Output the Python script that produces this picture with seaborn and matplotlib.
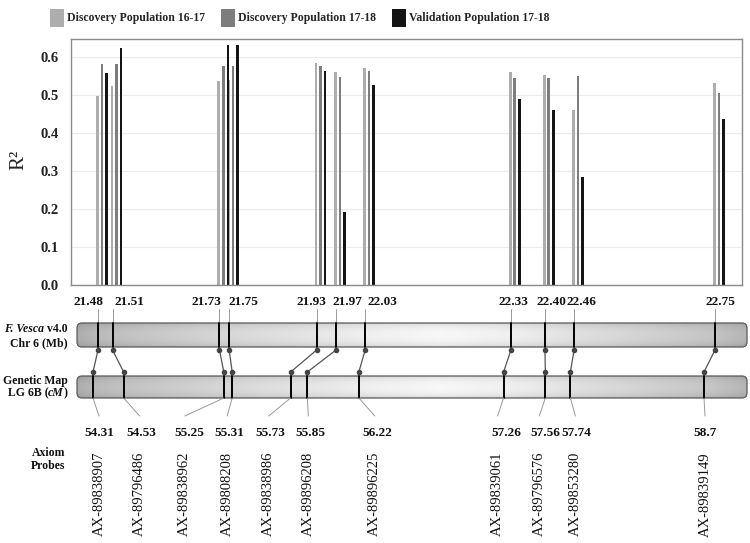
import numpy as np
import pandas as pd
import matplotlib
matplotlib.use('Agg')
import matplotlib.pyplot as plt
from matplotlib.patches import Patch, FancyBboxPatch
import seaborn as sns

# markers: physical position (Mb), genetic position (cM), probe id
mb_pos = [21.48, 21.51, 21.73, 21.75, 21.93, 21.97, 22.03, 22.33, 22.40, 22.46, 22.75]
cm_pos = [54.31, 54.53, 55.25, 55.31, 55.73, 55.85, 56.22, 57.26, 57.56, 57.74, 58.7]
probes = ['AX-89838907', 'AX-89796486', 'AX-89838962', 'AX-89808208', 'AX-89838986',
          'AX-89896208', 'AX-89896225', 'AX-89839061', 'AX-89796576', 'AX-89853280',
          'AX-89839149']

pops = ['Discovery Population 16-17', 'Discovery Population 17-18',
        'Validation Population 17-18']
r2_disc_1617 = [0.498, 0.523, 0.537, 0.540, 0.585, 0.561, 0.571, 0.562, 0.554, 0.460, 0.533]
r2_disc_1718 = [0.582, 0.582, 0.576, 0.578, 0.577, 0.548, 0.564, 0.544, 0.545, 0.551, 0.506]
r2_valid_1718 = [0.559, 0.625, 0.631, 0.631, 0.565, 0.193, 0.528, 0.490, 0.460, 0.285, 0.437]

colors = ['#adadad', '#7d7d7d', '#141414']

# label nudges in pixels (layout only)
mb_lab_off = [-10, 17, -13, 14, -5, 11, 17, 2, 6, 7, 5]
cm_lab_off = [6, 18, -35, -3, -20, 3, 18, 3, 0, 6, 1]
probe_off = [6, 16, -39, -5, -22, 1, 16, -6, -6, 5, 1]

df = pd.DataFrame({
    'mb': mb_pos * 3,
    'r2': r2_disc_1617 + r2_disc_1718 + r2_valid_1718,
    'pop': [p for p in pops for _ in mb_pos],
})

sns.set_theme(style='white')
plt.rcParams['font.family'] = ['Liberation Serif', 'DejaVu Serif']

W, H = 750, 543
fig = plt.figure(figsize=(W / 100, H / 100), dpi=100)
ax = fig.add_axes([71 / W, 1 - 285 / H, (742 - 71) / W, (285 - 39) / H])

sns.barplot(data=df, x='mb', y='r2', hue='pop', hue_order=pops, palette=colors,
            native_scale=True, width=1.4, gap=0.4, errorbar=None, saturation=1,
            legend=False, linewidth=0, ax=ax)

# groups sit slightly right of the marker position in the original
for p in ax.patches:
    p.set_x(p.get_x() + 0.008)

pad = 0.0556
ax.set_xlim(mb_pos[0] - pad, mb_pos[-1] + pad)
ax.set_ylim(0, 0.648)
ax.set_xlabel('')
ax.set_ylabel('')
ax.set_xticks([])
yt = np.round(np.arange(0, 0.61, 0.1), 1)
ax.set_yticks(yt)
ax.set_yticklabels([f'{v:.1f}' for v in yt], fontweight='bold', fontsize=10.5, color='#222222')
ax.tick_params(axis='y', length=0, pad=9)
ax.yaxis.grid(True, color='#ececec', lw=0.8)
ax.set_axisbelow(True)
for s in ax.spines.values():
    s.set_color('#8a8a8a')
    s.set_linewidth(1.0)

fig.text(19 / W, 1 - 160 / H, 'R²', rotation=90, fontsize=15, ha='center', va='center')

fig.legend(handles=[Patch(fc=c, ec='none') for c in colors], labels=pops,
           loc='upper left', bbox_to_anchor=(39 / W, 1 + 2 / H), ncol=3, frameon=False,
           handlelength=1.2, handleheight=2.0, handletextpad=0.3, columnspacing=1.3,
           prop={'weight': 'bold', 'size': 8.5})

# lower panel drawn in pixel coordinates
ov = fig.add_axes([0, 0, 1, 1], zorder=-1)
ov.patch.set_alpha(0)
ov.axis('off')


def mb_x(v):
    return ax.transData.transform((v, 0))[0]


CM_X0, CM_X1 = 93, 704


def cm_x(c):
    return CM_X0 + (c - cm_pos[0]) / (cm_pos[-1] - cm_pos[0]) * (CM_X1 - CM_X0)


CH_X0, CH_X1 = 77, 747
gx = [77, 98, 112, 220, 300, 370, 440, 510, 575, 715, 747]
gv = [0.64, 0.69, 0.71, 0.80, 0.85, 0.90, 0.93, 0.90, 0.84, 0.73, 0.67]


def chrom(y0, y1):
    box = FancyBboxPatch((CH_X0, y0), CH_X1 - CH_X0, y1 - y0,
                         boxstyle='round,pad=0,rounding_size=5',
                         fc='none', ec='#5a5a5a', lw=0.9, zorder=3)
    ov.add_patch(box)
    xs = np.linspace(CH_X0, CH_X1, 400)
    g = np.interp(xs, gx, gv)
    t = np.linspace(0, 1, 40)
    shade = 0.86 + 0.14 * np.sin(np.pi * t) ** 0.5
    img = np.clip(np.outer(shade, g) + 0.04, 0, 1)
    im = ov.imshow(img, cmap='gray', vmin=0, vmax=1, extent=(CH_X0, CH_X1, y1, y0),
                   origin='upper', aspect='auto', interpolation='bilinear', zorder=2)
    im.set_clip_path(box)


chrom(323, 347)
chrom(376, 398)

bold = dict(fontweight='bold', fontsize=9.5, color='#111111')
for i, v in enumerate(mb_pos):
    x = mb_x(v)
    xc = cm_x(cm_pos[i])
    ov.plot([x, x], [309, 323], color='#999999', lw=0.7, zorder=4)
    ov.plot([x, x], [323, 347], color='black', lw=1.4, zorder=4)
    ov.text(x + mb_lab_off[i], 302, f'{v:.2f}', ha='center', va='center', **bold)
    ov.plot([x, xc], [350, 372], color='#555555', lw=0.9, marker='o', ms=3,
            mfc='#444444', mec='#444444', zorder=4)
    ov.plot([xc, xc], [376, 398], color='black', lw=1.4, zorder=4)
    ov.plot([xc, xc + probe_off[i]], [398, 416], color='#999999', lw=0.7, zorder=4)
    ov.text(xc + cm_lab_off[i], 433, f'{cm_pos[i]:g}', ha='center', va='center', **bold)
    ov.text(xc + probe_off[i], 452, probes[i], rotation=90, ha='center', va='top',
            fontsize=10.5, color='#111111')

renderer = fig.canvas.get_renderer()


def rich(x, y, parts):
    # parts drawn right to left, right aligned at x
    for txt, style in reversed(parts):
        t = ov.text(x, y, txt, ha='right', va='center', fontweight='bold',
                    fontsize=8.5, style=style, color='#111111')
        x -= t.get_window_extent(renderer).width


rich(68, 329, [('F. Vesca', 'italic'), (' v4.0', 'normal')])
rich(68, 343, [('Chr 6 (Mb)', 'normal')])
rich(68, 381, [('Genetic Map', 'normal')])
rich(68, 393, [('LG 6B (', 'normal'), ('cM', 'italic'), (')', 'normal')])
rich(65, 453, [('Axiom', 'normal')])
rich(65, 466, [('Probes', 'normal')])

ov.set_xlim(0, W)
ov.set_ylim(H, 0)

fig.savefig('out.png', dpi=100)
